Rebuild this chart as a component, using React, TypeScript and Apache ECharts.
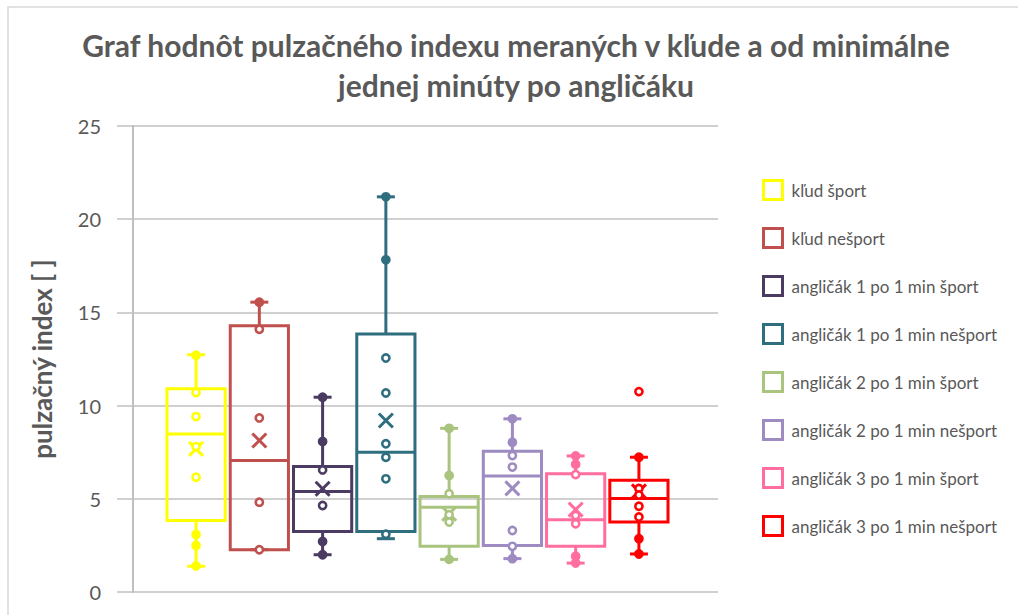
import React, { useEffect, useRef } from "react";
import * as echarts from "echarts";

const seriesNames = [
  "kľud šport",
  "kľud nešport",
  "angličák 1 po 1 min šport",
  "angličák 1 po 1 min nešport",
  "angličák 2 po 1 min šport",
  "angličák 2 po 1 min nešport",
  "angličák 3 po 1 min šport",
  "angličák 3 po 1 min nešport",
];
const seriesColors = ["#FFFF00", "#C0504D", "#4B3B62", "#2E6E7F", "#A9C47E", "#9E8BC1", "#FF6E9E", "#FF0000"];

const whiskerLow = [1.38, 2.27, 2.0, 2.86, 1.75, 1.79, 1.55, 2.04];
const quartile1 = [3.84, 2.27, 3.25, 3.25, 2.45, 2.5, 2.45, 3.75];
const medians = [8.48, 7.05, 5.39, 7.5, 4.55, 6.22, 3.88, 5.02];
const quartile3 = [10.9, 14.28, 6.73, 13.84, 5.12, 7.55, 6.34, 6.0];
const whiskerHigh = [12.73, 15.55, 10.45, 21.2, 8.78, 9.29, 7.3, 7.23];
const means = [7.68, 8.13, 5.54, 9.2, 4.2, 5.56, 4.42, 5.4];
const innerPoints = [
  [12.7, 10.7, 9.41, 7.8, 6.16, 3.09, 2.5, 1.4],
  [15.55, 14.1, 9.34, 4.82, 2.27],
  [10.45, 8.07, 6.55, 4.64, 2.71, 2.0],
  [21.2, 17.82, 12.55, 10.68, 7.95, 7.23, 6.07, 3.1],
  [8.78, 6.25, 5.27, 4.15, 3.75, 1.75],
  [9.29, 8.03, 7.32, 6.7, 3.3, 2.45, 1.79],
  [7.3, 6.85, 6.3, 4.1, 3.66, 1.92, 1.55],
  [7.23, 5.55, 5.2, 4.6, 4.02, 2.86, 2.04],
];
const outlierPoints = [[], [], [], [], [], [], [], [10.75]];

const yTicks = { min: 0, max: 25, interval: 5 };

const TEXT = "#595959";
const FONT = "Lato, 'Open Sans', sans-serif";

export default function App() {
  const ref = useRef<HTMLDivElement>(null);
  useEffect(() => {
    if (!ref.current) return;
    const chart = echarts.init(ref.current, undefined, { renderer: "svg" });

    const series = seriesNames.map((name, i) => {
      const color = seriesColors[i];
      return {
        type: "custom",
        name,
        itemStyle: { color },
        encode: { x: 0, y: [1, 2, 3, 4, 5] },
        data: [[i + 1, whiskerLow[i], quartile1[i], medians[i], quartile3[i], whiskerHigh[i], means[i]]],
        renderItem: (params: any, api: any) => {
          const xv = api.value(0);
          const cx = api.coord([xv, 0])[0];
          const w = api.size([0.92, 0])[0];
          const yp = (v: number) => api.coord([xv, v])[1];
          const lw = 3;
          const ls = { stroke: color, lineWidth: lw, fill: null };
          const line = (x1: number, y1: number, x2: number, y2: number) => ({
            type: "line",
            shape: { x1, y1, x2, y2 },
            style: ls,
          });
          const yLo = yp(api.value(1));
          const yQ1 = yp(api.value(2));
          const yMed = yp(api.value(3));
          const yQ3 = yp(api.value(4));
          const yHi = yp(api.value(5));
          const yMean = yp(api.value(6));
          const cap = 9;
          const children: any[] = [];
          children.push(line(cx, yQ3, cx, yHi));
          children.push(line(cx - cap, yHi, cx + cap, yHi));
          children.push(line(cx, yQ1, cx, yLo));
          children.push(line(cx - cap, yLo, cx + cap, yLo));
          children.push({
            type: "rect",
            shape: { x: cx - w / 2, y: yQ3, width: w, height: yQ1 - yQ3 },
            style: { stroke: color, lineWidth: lw, fill: "rgba(255,255,255,0)" },
          });
          children.push(line(cx - w / 2, yMed, cx + w / 2, yMed));
          const m = 7;
          children.push(line(cx - m, yMean - m, cx + m, yMean + m));
          children.push(line(cx - m, yMean + m, cx + m, yMean - m));
          const q1v = api.value(2);
          const q3v = api.value(4);
          innerPoints[i].forEach((v) => {
            const onWhisker = v > q3v + 0.25 || v < q1v - 0.25;
            children.push({
              type: "circle",
              shape: { cx, cy: yp(v), r: 3.6 },
              style: { stroke: color, lineWidth: 2.6, fill: onWhisker ? color : "#ffffff" },
            });
          });
          outlierPoints[i].forEach((v) => {
            children.push({
              type: "circle",
              shape: { cx, cy: yp(v), r: 3.6 },
              style: { stroke: color, lineWidth: 2.6, fill: "#ffffff" },
            });
          });
          return { type: "group", children };
        },
      };
    });

    chart.setOption({
      animation: false,
      backgroundColor: "#ffffff",
      textStyle: { fontFamily: FONT },
      grid: { left: 117, right: 300, top: 126, bottom: 23, containLabel: false },
      xAxis: {
        type: "value",
        min: -0.25,
        max: 9.25,
        show: false,
        splitLine: { show: false },
      },
      yAxis: {
        type: "value",
        min: yTicks.min,
        max: yTicks.max,
        interval: yTicks.interval,
        name: "pulzačný index [ ]",
        nameLocation: "middle",
        nameGap: 62,
        nameTextStyle: { fontSize: 26, fontWeight: "bold", color: TEXT, fontFamily: FONT },
        axisLine: { show: true, lineStyle: { color: "#bfbfbf", width: 2 } },
        axisTick: { show: false },
        axisLabel: { fontSize: 20, color: TEXT, margin: 16, fontFamily: FONT },
        splitLine: { show: true, lineStyle: { color: "#d0d0d0", width: 2 } },
      },
      legend: {
        orient: "vertical",
        left: 757,
        top: 174,
        itemWidth: 19,
        itemHeight: 19,
        itemGap: 26,
        icon: "rect",
        textStyle: { fontSize: 17, color: TEXT, fontFamily: FONT, padding: [0, 0, 0, 4] },
        data: seriesNames.map((name, i) => ({
          name,
          itemStyle: { color: "#ffffff", borderColor: seriesColors[i], borderWidth: 3 },
        })),
      },
      graphic: [
        {
          type: "rect",
          shape: { x: 8, y: 7, width: 1100, height: 700 },
          style: { fill: null, stroke: "#d9d9d9", lineWidth: 1.5 },
          silent: true,
        },
        {
          type: "text",
          x: 516,
          y: 45,
          style: {
            text: "Graf hodnôt pulzačného indexu meraných v kľude a od minimálne",
            fontSize: 30,
            fontWeight: "bold",
            fill: TEXT,
            fontFamily: FONT,
            textAlign: "center",
            textVerticalAlign: "middle",
          },
        },
        {
          type: "text",
          x: 516,
          y: 85,
          style: {
            text: "jednej minúty po angličáku",
            fontSize: 30,
            fontWeight: "bold",
            fill: TEXT,
            fontFamily: FONT,
            textAlign: "center",
            textVerticalAlign: "middle",
          },
        },
      ],
      series,
    });
    return () => chart.dispose();
  }, []);
  return (
    <div
      ref={ref}
      style={{ position: "fixed", left: 0, top: 0, width: 1018, height: 615, background: "#fff" }}
    />
  );
}
